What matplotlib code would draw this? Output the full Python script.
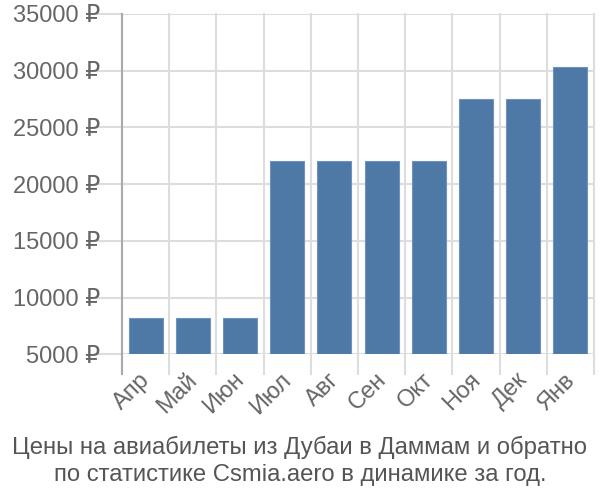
import matplotlib
matplotlib.use("Agg")
import matplotlib.pyplot as plt
import matplotlib.transforms as mtransforms
import numpy as np

plt.rcParams['font.family'] = ['Liberation Sans', 'DejaVu Sans']

months = ["Апр", "Май", "Июн", "Июл", "Авг", "Сен", "Окт", "Ноя", "Дек", "Янв"]
prices = [8180, 8180, 8180, 22020, 22020, 22020, 22020, 27540, 27540, 30340]
yticks = [5000, 10000, 15000, 20000, 25000, 30000, 35000]
title = "Цены на авиабилеты из Дубаи в Даммам и обратно\nпо статистике Csmia.aero в динамике за год."

fig = plt.figure(figsize=(6, 5), dpi=100)
ax = fig.add_axes([122/600, 1 - 354.3/500, (594 - 122)/600, (354.3 - 14)/500])

x = np.arange(len(months))
base = 5000
ax.bar(x, [p - base for p in prices], bottom=base, width=0.72,
       color="#4e79a7", edgecolor="#6f93bd", linewidth=0.8, zorder=3)

ax.set_xlim(-0.5, len(months) - 0.5)
ax.set_ylim(5000, 35000)
ax.set_yticks(yticks)
ax.set_yticklabels([f"{v} ₽" for v in yticks], fontsize=17, color="#666666")

ax.set_xticks(x)
ax.set_xticklabels(months, rotation=45, ha="right", va="center", rotation_mode="anchor",
                   fontsize=17, color="#666666")
ax.tick_params(axis="x", length=0, pad=16)
ax.tick_params(axis="y", length=20, color="#dddddd", width=1.5, pad=-4)
offset = mtransforms.ScaledTranslation(1/100, 0, fig.dpi_scale_trans)
for lab in ax.get_xticklabels():
    lab.set_transform(lab.get_transform() + offset)

# grid
for yv in yticks:
    ax.axhline(yv, color="#dddddd", linewidth=1.5, zorder=1)
for b in np.arange(-0.5, len(months), 1.0):
    ax.plot([b, b], [0, 1], transform=ax.get_xaxis_transform(), color="#dddddd",
            linewidth=1.5, zorder=1, clip_on=False)
    ax.plot([b, b], [-20/340.3, 0], transform=ax.get_xaxis_transform(), color="#dddddd",
            linewidth=1.5, zorder=1, clip_on=False)

for s in ["top", "right", "bottom"]:
    ax.spines[s].set_visible(False)
ax.spines["left"].set_color("#aaaaaa")
ax.spines["left"].set_linewidth(1.5)
ax.spines["left"].set_bounds(5000, 35000)
ax.plot([-0.5, -0.5], [-20/340.3, 0], transform=ax.get_xaxis_transform(), color="#aaaaaa",
        linewidth=1.5, zorder=4, clip_on=False)

fig.text(0.5, 1 - 461/500, title, ha="center", va="center", fontsize=17.2,
         color="#555555", linespacing=1.25)

fig.savefig("out.png", dpi=100)
